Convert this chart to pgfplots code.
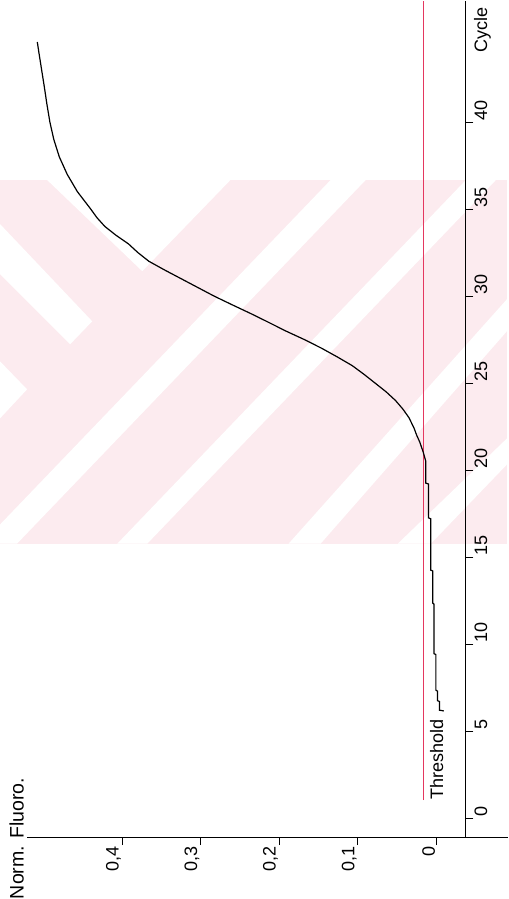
\documentclass[border=0pt]{standalone}
\usepackage{pgfplots}
\usepackage{pgfplotstable}
\pgfplotsset{compat=1.18}
\usepackage{fontspec}
\setmainfont{Liberation Sans}
\definecolor{thrcol}{RGB}{228,55,95}
\definecolor{wm}{RGB}{252,235,239}
\pgfplotstableread{
F C
-0.0095 6.16
-0.004 6.2
-0.004 6.7
-0.0015 6.75
-0.0015 7.3
0.0006 7.35
0.0006 9.4
0.003 9.45
0.003 12.3
0.0045 12.35
0.0045 14.2
0.007 14.25
0.007 17.2
0.0099 17.25
0.0099 19.2
0.0134 19.25
0.0134 20.5
0.0165 21.0
0.021 21.6
0.025 22.0
0.0283 22.4
0.0347 23.0
0.0425 23.5
0.052 24.0
0.064 24.5
0.078 25.0
0.092 25.5
0.107 26.0
0.126 26.5
0.146 27.0
0.168 27.5
0.192 28.0
0.214 28.5
0.2365 29.0
0.260 29.5
0.283 30.0
0.304 30.5
0.325 31.0
0.346 31.5
0.366 32.0
0.380 32.5
0.392 33.0
0.408 33.5
0.422 34.0
0.432 34.5
0.440 35.0
0.457 36.0
0.470 37.0
0.480 38.0
0.487 39.0
0.492 40.0
0.4957 41.0
0.499 42.0
0.5025 43.0
0.506 44.0
0.508 44.6
}\curve
\newcommand{\lab}{\fontsize{18}{18}\selectfont}
\begin{document}
\begin{tikzpicture}
\begin{axis}[
  set layers,
  scale only axis, width=437.5pt, height=835pt,
  xmin=-0.521, xmax=0.037, ymin=-1.094, ymax=46.98,
  axis x line=bottom, axis y line=right,
  axis line style={-, line width=1.2pt, black},
  axis on top,
  clip=false,
  xtick={-0.4,-0.3,-0.2,-0.1,0}, xticklabels={{0,4},{0,3},{0,2},{0,1},0},
  ytick={0,5,...,40},
  tick align=outside, major tick length=8pt,
  every tick/.style={black, line width=1pt},
  xticklabel style={rotate=90, anchor=south east, inner sep=1pt, font=\lab},
  yticklabel style={rotate=90, anchor=north west, inner sep=1pt, font=\lab},
  /pgf/number format/assume math mode=true,
]
% threshold at 0.0166 (plotted on the mirrored axis)
\addplot[color=thrcol, draw=thrcol, line width=1.1pt] coordinates {(-0.0166,1.04) (-0.0166,46.98)};
\addplot[color=black, line width=1.2pt] table[x expr=-\thisrow{F}, y=C] {\curve};
\draw[line width=1.2pt] (axis cs:0.037,-1.094) -- (axis cs:0.0906,-1.094);
\node[rotate=90, anchor=south west, inner sep=0pt, font=\fontsize{19.5}{19.5}\selectfont] at (axis cs:-0.525,-4.66) {Norm. Fluoro.};
\node[rotate=90, anchor=north west, inner sep=0pt, font=\lab] at (axis cs:0.0478,43.98) {Cycle};
\node[rotate=90, anchor=north west, inner sep=0pt, font=\lab] at (axis cs:-0.0083,1.04) {Threshold};
% faint watermark of the scanned page, kept behind everything
\begin{pgfonlayer}{axis background}
\fill[wm] (axis cs:-0.5555,15.77) rectangle (axis cs:0.0899,36.67);
\fill[white] (axis cs:-0.4955,36.67) -- (axis cs:-0.2621,36.67) -- (axis cs:-0.3744,31.43) -- cycle;
\fill[white] (axis cs:-0.5555,34.14) -- (axis cs:-0.4381,28.55) -- (axis cs:-0.4662,27.23) -- (axis cs:-0.5555,31.26) -- cycle;
\fill[white] (axis cs:-0.5555,26.25) -- (axis cs:-0.5210,24.64) -- (axis cs:-0.5555,22.97) -- cycle;
\fill[white] (axis cs:-0.1346,36.67) -- (axis cs:-0.0899,36.67) -- (axis cs:-0.5338,15.77) -- (axis cs:-0.5555,15.77) -- (axis cs:-0.5555,16.87) -- cycle;
\fill[white] (axis cs:0.0376,36.67) -- (axis cs:0.0759,36.67) -- (axis cs:-0.3680,15.77) -- (axis cs:-0.4062,15.77) -- cycle;
\fill[white] (axis cs:-0.1881,15.77) -- (axis cs:-0.1473,15.77) -- (axis cs:0.0899,27.98) -- (axis cs:0.0899,29.82) -- cycle;
\fill[white] (axis cs:-0.0491,15.77) -- (axis cs:-0.0070,15.77) -- (axis cs:0.0899,20.32) -- (axis cs:0.0899,21.82) -- cycle;
\end{pgfonlayer}
\end{axis}
\end{tikzpicture}
\end{document}
